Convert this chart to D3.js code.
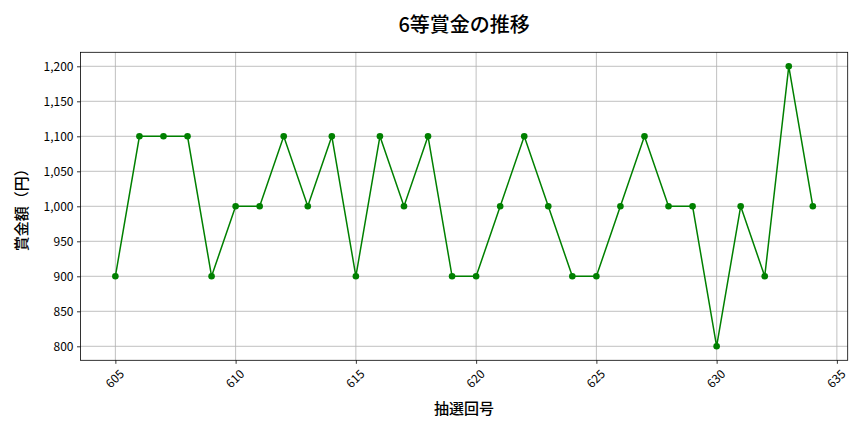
<!DOCTYPE html>
<html><head><meta charset="utf-8">
<script src="https://cdn.jsdelivr.net/npm/d3@7"></script>
<style>
body{margin:0;background:#fff;}
text{font-family:"Noto Sans CJK JP","Noto Sans",sans-serif;}
</style></head>
<body><svg id="c" width="864" height="432"></svg>
<script>
const draws = [605,606,607,608,609,610,611,612,613,614,615,616,617,618,619,620,621,622,623,624,625,626,627,628,629,630,631,632,633,634];
const prizes = [900,1100,1100,1100,900,1000,1000,1100,1000,1100,900,1100,1000,1100,900,900,1000,1100,1000,900,900,1000,1100,1000,1000,800,1000,900,1200,1000];
const xTicks = [605,610,615,620,625,630,635];
const yTicks = [800,850,900,950,1000,1050,1100,1150,1200];
const titleText = "6等賞金の推移";
const xLabel = "抽選回号";
const yLabel = "賞金額（円）";

const svg = d3.select("#c");
const L=80.5, R=847.7, T=52.3, B=360.3;
const x = d3.scaleLinear().domain([603.55,635.45]).range([L,R]);
const y = d3.scaleLinear().domain([780,1220]).range([B,T]);

// grid
svg.append("g").selectAll("line").data(xTicks).join("line")
  .attr("x1",d=>x(d)).attr("x2",d=>x(d)).attr("y1",T).attr("y2",B)
  .attr("stroke","#b0b0b0").attr("stroke-width",0.8);
svg.append("g").selectAll("line").data(yTicks).join("line")
  .attr("y1",d=>y(d)).attr("y2",d=>y(d)).attr("x1",L).attr("x2",R)
  .attr("stroke","#b0b0b0").attr("stroke-width",0.8);

// axes
const fmt = d3.format(",");
const xa = svg.append("g").attr("transform",`translate(0,${B})`)
  .call(d3.axisBottom(x).tickValues(xTicks).tickSize(3.5).tickPadding(3).tickFormat(d3.format("d")));
xa.selectAll("text").attr("font-size",12).attr("fill","#000")
  .attr("text-anchor","middle").attr("y",0).attr("dy","0.35em")
  .attr("transform","translate(-1,18.5) rotate(-45)");
const ya = svg.append("g").attr("transform",`translate(${L},0)`)
  .call(d3.axisLeft(y).tickValues(yTicks).tickSize(3.5).tickPadding(3.5).tickFormat(fmt));
ya.selectAll("text").attr("font-size",12).attr("fill","#000");
[xa,ya].forEach(a=>{a.select(".domain").remove(); a.selectAll("line").attr("stroke","#000").attr("stroke-width",0.8);});

svg.append("rect").attr("x",L).attr("y",T).attr("width",R-L).attr("height",B-T)
  .attr("fill","none").attr("stroke","#000").attr("stroke-width",0.8);

// line
svg.append("path").datum(draws.map((d,i)=>[d,prizes[i]]))
  .attr("fill","none").attr("stroke","#008000").attr("stroke-width",1.5)
  .attr("d",d3.line().x(d=>x(d[0])).y(d=>y(d[1])));
svg.append("g").selectAll("circle").data(draws.map((d,i)=>[d,prizes[i]])).join("circle")
  .attr("cx",d=>x(d[0])).attr("cy",d=>y(d[1])).attr("r",3.3).attr("fill","#008000");

// labels
svg.append("text").attr("x",(L+R)/2).attr("y",32).attr("text-anchor","middle")
  .attr("font-size",20).attr("font-weight","500").text(titleText);
svg.append("text").attr("x",(L+R)/2).attr("y",414).attr("text-anchor","middle")
  .attr("font-size",15).attr("font-weight","500").text(xLabel);
svg.append("text").attr("transform",`translate(27,${(T+B)/2}) rotate(-90)`).attr("text-anchor","middle")
  .attr("font-size",15).attr("font-weight","500").text(yLabel);
</script></body></html>
